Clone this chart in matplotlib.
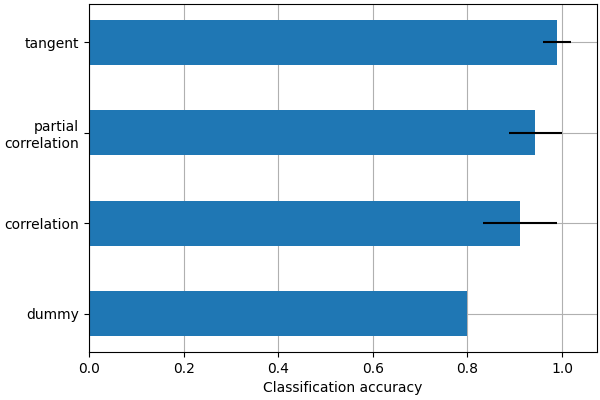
import matplotlib
matplotlib.use("Agg")
import matplotlib.pyplot as plt
import numpy as np

categories = ["dummy", "correlation", "partial\ncorrelation", "tangent"]
means = [0.799, 0.911, 0.943, 0.989]
errors = [0.0, 0.079, 0.056, 0.030]

fig = plt.figure(figsize=(6, 4), dpi=100)
ax = fig.add_axes([89/600, 48/400, 508/600, 348/400])
pos = np.arange(len(categories))
ax.barh(pos, means, xerr=errors, height=0.5, color="#1f77b4", ecolor="black", zorder=2)
ax.set_yticks(pos)
ax.set_yticklabels(categories)
ax.set_xlabel("Classification accuracy")
ax.set_xlim(0, 1.074)
ax.grid(True, zorder=0)
ax.set_axisbelow(True)
fig.savefig("out.png", dpi=100)
